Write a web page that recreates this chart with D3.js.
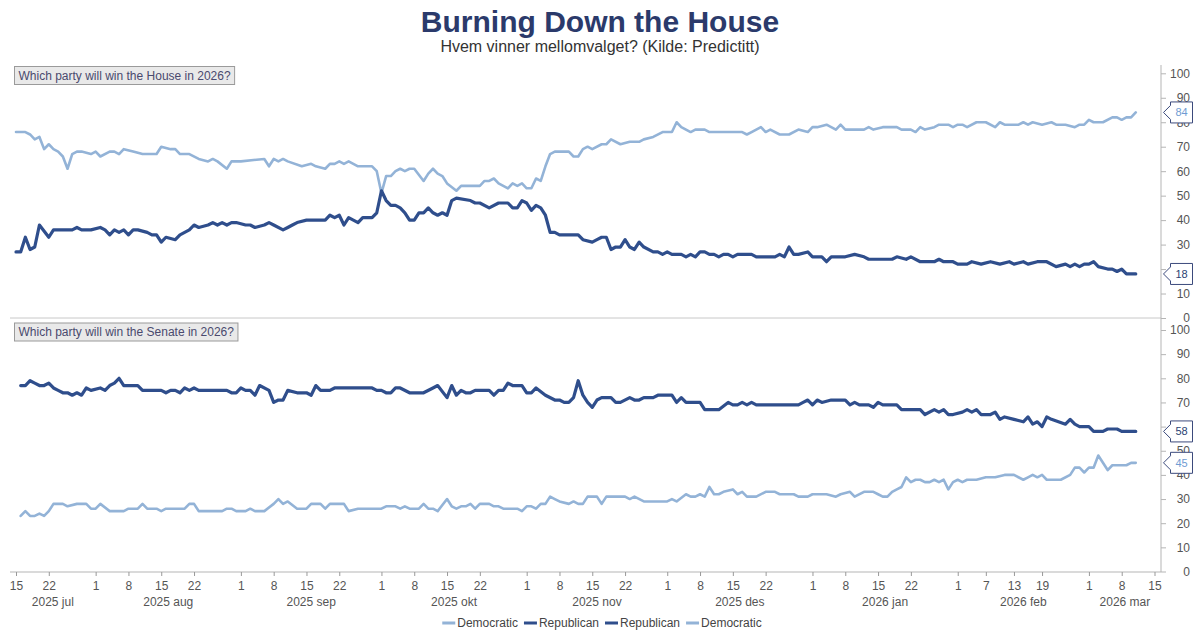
<!DOCTYPE html>
<html>
<head>
<meta charset="utf-8">
<script src="https://cdn.jsdelivr.net/npm/d3@7/dist/d3.min.js"></script>
<style>
  html, body { margin: 0; padding: 0; background: #fff; }
  svg { display: block; font-family: "Liberation Sans", Arial, sans-serif; }
</style>
</head>
<body>
<svg id="chart" width="1200" height="643"></svg>
<script>
// ---------- DATA ----------
const title = "Burning Down the House";
const subtitle = "Hvem vinner mellomvalget? (Kilde: Predictitt)";
const panelTitles = ["Which party will win the House in 2026?", "Which party will win the Senate in 2026?"];
const seriesNames = ["Democratic", "Republican"];
const legendItems = ["Democratic", "Republican", "Republican", "Democratic"];
const yTicks = [0, 10, 20, 30, 40, 50, 60, 70, 80, 90, 100];

const xTickDates = ["2025-07-15","2025-07-22","2025-08-01","2025-08-08","2025-08-15","2025-08-22",
  "2025-09-01","2025-09-08","2025-09-15","2025-09-22","2025-10-01","2025-10-08","2025-10-15","2025-10-22",
  "2025-11-01","2025-11-08","2025-11-15","2025-11-22","2025-12-01","2025-12-08","2025-12-15","2025-12-22",
  "2026-01-01","2026-01-08","2026-01-15","2026-01-22","2026-02-01","2026-02-07","2026-02-13","2026-02-19",
  "2026-03-01","2026-03-08","2026-03-15"];
const monthStarts = ["2025-07-01","2025-08-01","2025-09-01","2025-10-01","2025-11-01","2025-12-01","2026-01-01","2026-02-01","2026-03-01","2026-04-01"];
const monthLabels = ["2025 jul","2025 aug","2025 sep","2025 okt","2025 nov","2025 des","2026 jan","2026 feb","2026 mar"];

const houseDem = [
["2025-07-15",76],["2025-07-17",76],["2025-07-18",75],["2025-07-19",73],["2025-07-20",74],["2025-07-21",69],
["2025-07-22",71],["2025-07-23",69],["2025-07-24",68],["2025-07-25",66],["2025-07-26",61],["2025-07-27",67],
["2025-07-28",68],["2025-07-29",68],["2025-07-31",67],["2025-08-01",68],["2025-08-02",66],["2025-08-04",68],
["2025-08-05",68],["2025-08-06",67],["2025-08-07",69],["2025-08-09",68],["2025-08-11",67],["2025-08-14",67],
["2025-08-15",70],["2025-08-17",69],["2025-08-18",69],["2025-08-19",67],["2025-08-21",67],["2025-08-23",65],
["2025-08-25",64],["2025-08-26",65],["2025-08-27",64],["2025-08-29",61],["2025-08-30",64],["2025-09-01",64],
["2025-09-06",65],["2025-09-07",62],["2025-09-08",65],["2025-09-09",64],["2025-09-10",65],["2025-09-11",64],
["2025-09-14",62],["2025-09-16",63],["2025-09-17",62],["2025-09-19",61],["2025-09-20",63],["2025-09-21",63],
["2025-09-22",64],["2025-09-23",63],["2025-09-24",64],["2025-09-26",62],["2025-09-29",62],["2025-09-30",60],
["2025-10-01",51],["2025-10-02",58],["2025-10-03",58],["2025-10-04",60],["2025-10-05",61],["2025-10-06",60],
["2025-10-07",61],["2025-10-08",61],["2025-10-10",56],["2025-10-11",59],["2025-10-12",61],["2025-10-13",59],
["2025-10-14",58],["2025-10-15",55],["2025-10-17",52],["2025-10-18",54],["2025-10-22",54],["2025-10-23",56],
["2025-10-24",56],["2025-10-25",57],["2025-10-26",55],["2025-10-28",53],["2025-10-29",55],["2025-10-30",54],
["2025-10-31",55],["2025-11-01",53],["2025-11-02",53],["2025-11-03",57],["2025-11-04",56],["2025-11-05",62],
["2025-11-06",67],["2025-11-07",68],["2025-11-08",68],["2025-11-10",68],["2025-11-11",66],["2025-11-12",66],
["2025-11-13",69],["2025-11-14",70],["2025-11-15",69],["2025-11-17",71],["2025-11-18",71],["2025-11-19",73],
["2025-11-21",71],["2025-11-23",72],["2025-11-25",72],["2025-11-26",73],["2025-11-28",74],["2025-11-30",76],
["2025-12-02",76],["2025-12-03",80],["2025-12-04",78],["2025-12-06",76],["2025-12-07",77],["2025-12-09",77],
["2025-12-10",76],["2025-12-17",76],["2025-12-18",75],["2025-12-19",76],["2025-12-21",78],["2025-12-22",76],
["2025-12-23",77],["2025-12-25",75],["2025-12-27",75],["2025-12-29",77],["2025-12-31",76],["2026-01-01",78],
["2026-01-02",78],["2026-01-04",79],["2026-01-05",78],["2026-01-06",77],["2026-01-07",79],["2026-01-08",77],
["2026-01-12",77],["2026-01-13",78],["2026-01-14",77],["2026-01-16",78],["2026-01-19",78],["2026-01-20",77],
["2026-01-22",77],["2026-01-23",76],["2026-01-24",78],["2026-01-25",77],["2026-01-27",78],["2026-01-28",79],
["2026-01-30",79],["2026-01-31",78],["2026-02-01",79],["2026-02-02",79],["2026-02-03",78],["2026-02-05",80],
["2026-02-07",80],["2026-02-09",78],["2026-02-10",80],["2026-02-11",79],["2026-02-14",79],["2026-02-15",80],
["2026-02-16",79],["2026-02-17",80],["2026-02-19",79],["2026-02-21",80],["2026-02-22",79],["2026-02-24",79],
["2026-02-26",78],["2026-02-27",79],["2026-02-28",79],["2026-03-01",81],["2026-03-02",80],["2026-03-04",80],
["2026-03-06",82],["2026-03-07",82],["2026-03-08",81],["2026-03-09",82],["2026-03-10",82],["2026-03-11",84]];

const houseRep = [
["2025-07-15",27],["2025-07-16",27],["2025-07-17",33],["2025-07-18",28],["2025-07-19",29],["2025-07-20",38],
["2025-07-22",33],["2025-07-23",36],["2025-07-27",36],["2025-07-28",37],["2025-07-29",36],["2025-07-31",36],
["2025-08-02",37],["2025-08-03",36],["2025-08-04",34],["2025-08-05",36],["2025-08-06",35],["2025-08-07",36],
["2025-08-08",34],["2025-08-09",36],["2025-08-10",36],["2025-08-12",35],["2025-08-13",34],["2025-08-14",34],
["2025-08-15",31],["2025-08-16",33],["2025-08-18",32],["2025-08-19",34],["2025-08-20",35],["2025-08-21",36],
["2025-08-22",38],["2025-08-23",37],["2025-08-25",38],["2025-08-26",39],["2025-08-27",38],["2025-08-28",39],
["2025-08-29",38],["2025-08-30",39],["2025-08-31",39],["2025-09-02",38],["2025-09-03",38],["2025-09-04",37],
["2025-09-06",38],["2025-09-07",39],["2025-09-08",38],["2025-09-10",36],["2025-09-11",37],["2025-09-12",38],
["2025-09-13",39],["2025-09-15",40],["2025-09-19",40],["2025-09-20",42],["2025-09-21",41],["2025-09-22",42],
["2025-09-23",38],["2025-09-24",41],["2025-09-25",40],["2025-09-26",39],["2025-09-27",41],["2025-09-29",41],
["2025-09-30",43],["2025-10-01",52],["2025-10-02",48],["2025-10-03",46],["2025-10-04",46],["2025-10-05",45],
["2025-10-06",43],["2025-10-07",40],["2025-10-08",40],["2025-10-09",43],["2025-10-10",43],["2025-10-11",45],
["2025-10-12",43],["2025-10-13",42],["2025-10-14",43],["2025-10-15",42],["2025-10-16",48],["2025-10-17",49],
["2025-10-20",48],["2025-10-21",47],["2025-10-22",47],["2025-10-24",45],["2025-10-26",47],["2025-10-28",47],
["2025-10-29",45],["2025-10-30",45],["2025-10-31",48],["2025-11-01",47],["2025-11-02",44],["2025-11-03",46],
["2025-11-04",45],["2025-11-05",42],["2025-11-06",35],["2025-11-07",35],["2025-11-08",34],["2025-11-12",34],
["2025-11-13",32],["2025-11-15",31],["2025-11-16",32],["2025-11-17",33],["2025-11-18",33],["2025-11-19",28],
["2025-11-20",29],["2025-11-21",29],["2025-11-22",32],["2025-11-23",29],["2025-11-24",28],["2025-11-25",31],
["2025-11-26",29],["2025-11-28",27],["2025-11-29",27],["2025-11-30",26],["2025-12-01",27],["2025-12-02",26],
["2025-12-04",26],["2025-12-05",25],["2025-12-06",26],["2025-12-07",25],["2025-12-08",27],["2025-12-09",27],
["2025-12-10",26],["2025-12-11",26],["2025-12-12",25],["2025-12-13",26],["2025-12-14",26],["2025-12-15",25],
["2025-12-16",26],["2025-12-19",26],["2025-12-20",25],["2025-12-24",25],["2025-12-25",26],["2025-12-26",25],
["2025-12-27",29],["2025-12-28",26],["2025-12-29",26],["2025-12-31",27],["2026-01-01",25],["2026-01-03",25],
["2026-01-04",23],["2026-01-05",25],["2026-01-08",25],["2026-01-10",26],["2026-01-12",25],["2026-01-13",24],
["2026-01-18",24],["2026-01-19",25],["2026-01-21",24],["2026-01-22",25],["2026-01-24",23],["2026-01-27",23],
["2026-01-28",24],["2026-01-29",23],["2026-01-31",23],["2026-02-01",22],["2026-02-03",22],["2026-02-04",23],
["2026-02-06",22],["2026-02-08",23],["2026-02-10",22],["2026-02-12",23],["2026-02-13",22],["2026-02-15",23],
["2026-02-16",22],["2026-02-18",23],["2026-02-20",23],["2026-02-22",21],["2026-02-24",22],["2026-02-25",21],
["2026-02-26",22],["2026-02-27",21],["2026-02-28",22],["2026-03-01",22],["2026-03-02",23],["2026-03-03",21],
["2026-03-05",20],["2026-03-06",20],["2026-03-07",19],["2026-03-08",20],["2026-03-09",18],["2026-03-11",18]];

const senateRep = [
["2025-07-16",77],["2025-07-17",77],["2025-07-18",79],["2025-07-19",78],["2025-07-20",77],["2025-07-21",77],
["2025-07-22",78],["2025-07-23",76],["2025-07-24",75],["2025-07-25",74],["2025-07-26",74],["2025-07-27",73],
["2025-07-28",74],["2025-07-29",73],["2025-07-30",76],["2025-07-31",75],["2025-08-02",76],["2025-08-03",75],
["2025-08-04",77],["2025-08-05",78],["2025-08-06",80],["2025-08-07",77],["2025-08-10",77],["2025-08-11",75],
["2025-08-15",75],["2025-08-16",74],["2025-08-17",75],["2025-08-18",75],["2025-08-19",74],["2025-08-20",76],
["2025-08-21",75],["2025-08-22",76],["2025-08-23",75],["2025-08-29",75],["2025-08-30",74],["2025-08-31",74],
["2025-09-01",76],["2025-09-02",75],["2025-09-03",75],["2025-09-04",73],["2025-09-05",77],["2025-09-07",75],
["2025-09-08",70],["2025-09-09",71],["2025-09-10",71],["2025-09-11",75],["2025-09-13",74],["2025-09-15",74],
["2025-09-16",73],["2025-09-17",77],["2025-09-18",75],["2025-09-20",75],["2025-09-21",76],["2025-09-29",76],
["2025-09-30",75],["2025-10-01",75],["2025-10-02",74],["2025-10-03",74],["2025-10-04",76],["2025-10-05",76],
["2025-10-07",74],["2025-10-10",74],["2025-10-12",76],["2025-10-13",77],["2025-10-15",72],["2025-10-16",77],
["2025-10-17",73],["2025-10-18",75],["2025-10-19",74],["2025-10-20",74],["2025-10-21",75],["2025-10-24",75],
["2025-10-25",73],["2025-10-26",75],["2025-10-27",75],["2025-10-28",78],["2025-10-29",77],["2025-10-31",77],
["2025-11-01",74],["2025-11-02",74],["2025-11-03",76],["2025-11-05",73],["2025-11-07",71],["2025-11-08",71],
["2025-11-09",70],["2025-11-10",70],["2025-11-11",72],["2025-11-12",79],["2025-11-13",73],["2025-11-14",70],
["2025-11-15",68],["2025-11-16",71],["2025-11-17",72],["2025-11-19",72],["2025-11-20",70],["2025-11-21",70],
["2025-11-23",72],["2025-11-24",71],["2025-11-25",71],["2025-11-26",72],["2025-11-28",72],["2025-11-29",73],
["2025-12-02",73],["2025-12-03",70],["2025-12-04",72],["2025-12-05",70],["2025-12-08",70],["2025-12-09",67],
["2025-12-12",67],["2025-12-14",70],["2025-12-15",69],["2025-12-16",69],["2025-12-17",70],["2025-12-18",69],
["2025-12-19",70],["2025-12-20",69],["2025-12-29",69],["2025-12-30",70],["2025-12-31",71],["2026-01-01",69],
["2026-01-02",71],["2026-01-03",70],["2026-01-05",71],["2026-01-08",71],["2026-01-09",69],["2026-01-10",70],
["2026-01-11",69],["2026-01-13",69],["2026-01-14",68],["2026-01-15",70],["2026-01-16",69],["2026-01-19",69],
["2026-01-20",67],["2026-01-24",67],["2026-01-25",65],["2026-01-27",67],["2026-01-28",66],["2026-01-29",67],
["2026-01-30",65],["2026-01-31",65],["2026-02-02",66],["2026-02-03",67],["2026-02-04",66],["2026-02-05",67],
["2026-02-06",65],["2026-02-08",65],["2026-02-09",66],["2026-02-10",63],["2026-02-11",64],["2026-02-13",63],
["2026-02-15",62],["2026-02-16",64],["2026-02-17",61],["2026-02-18",62],["2026-02-19",60],["2026-02-20",64],
["2026-02-21",63],["2026-02-24",61],["2026-02-25",63],["2026-02-26",61],["2026-02-27",60],["2026-03-01",60],
["2026-03-02",58],["2026-03-04",58],["2026-03-05",59],["2026-03-07",59],["2026-03-08",58],["2026-03-11",58]];

const senateDem = [
["2025-07-16",23],["2025-07-17",25],["2025-07-18",23],["2025-07-19",23],["2025-07-20",24],["2025-07-21",23],
["2025-07-22",25],["2025-07-23",28],["2025-07-25",28],["2025-07-26",27],["2025-07-28",28],["2025-07-30",28],
["2025-07-31",26],["2025-08-01",26],["2025-08-02",28],["2025-08-04",25],["2025-08-07",25],["2025-08-08",26],
["2025-08-10",26],["2025-08-11",28],["2025-08-12",26],["2025-08-14",26],["2025-08-15",25],["2025-08-16",26],
["2025-08-20",26],["2025-08-21",28],["2025-08-22",28],["2025-08-23",25],["2025-08-28",25],["2025-08-29",26],
["2025-08-30",26],["2025-08-31",25],["2025-09-02",25],["2025-09-03",26],["2025-09-04",25],["2025-09-06",25],
["2025-09-08",28],["2025-09-09",30],["2025-09-10",28],["2025-09-11",29],["2025-09-13",26],["2025-09-15",26],
["2025-09-16",28],["2025-09-18",28],["2025-09-19",26],["2025-09-20",28],["2025-09-21",28],["2025-09-23",28],
["2025-09-24",25],["2025-09-26",26],["2025-10-01",26],["2025-10-02",27],["2025-10-04",27],["2025-10-05",26],
["2025-10-06",27],["2025-10-07",26],["2025-10-09",26],["2025-10-10",28],["2025-10-11",26],["2025-10-12",26],
["2025-10-13",25],["2025-10-15",30],["2025-10-16",27],["2025-10-17",26],["2025-10-18",27],["2025-10-19",27],
["2025-10-20",28],["2025-10-21",26],["2025-10-22",28],["2025-10-24",28],["2025-10-25",27],["2025-10-26",27],
["2025-10-27",26],["2025-10-30",26],["2025-10-31",25],["2025-11-01",27],["2025-11-02",27],["2025-11-03",26],
["2025-11-04",28],["2025-11-05",28],["2025-11-06",31],["2025-11-07",30],["2025-11-08",29],["2025-11-10",28],
["2025-11-11",29],["2025-11-12",28],["2025-11-13",28],["2025-11-14",31],["2025-11-16",31],["2025-11-17",28],
["2025-11-18",31],["2025-11-22",31],["2025-11-23",30],["2025-11-24",31],["2025-11-26",29],["2025-12-01",29],
["2025-12-02",30],["2025-12-03",29],["2025-12-05",32],["2025-12-06",31],["2025-12-07",31],["2025-12-08",32],
["2025-12-09",31],["2025-12-10",35],["2025-12-11",32],["2025-12-12",32],["2025-12-13",33],["2025-12-15",34],
["2025-12-16",32],["2025-12-17",33],["2025-12-18",31],["2025-12-20",31],["2025-12-22",33],["2025-12-24",33],
["2025-12-25",32],["2025-12-28",32],["2025-12-29",31],["2025-12-31",31],["2026-01-01",32],["2026-01-04",32],
["2026-01-06",31],["2026-01-07",32],["2026-01-09",33],["2026-01-10",31],["2026-01-12",33],["2026-01-14",33],
["2026-01-15",32],["2026-01-16",31],["2026-01-17",31],["2026-01-18",33],["2026-01-19",34],["2026-01-20",35],
["2026-01-21",39],["2026-01-22",37],["2026-01-23",38],["2026-01-24",38],["2026-01-25",37],["2026-01-26",37],
["2026-01-27",38],["2026-01-28",37],["2026-01-29",38],["2026-01-30",34],["2026-01-31",37],["2026-02-01",38],
["2026-02-02",37],["2026-02-03",38],["2026-02-05",38],["2026-02-07",39],["2026-02-09",39],["2026-02-11",40],
["2026-02-13",40],["2026-02-15",38],["2026-02-16",39],["2026-02-17",40],["2026-02-18",39],["2026-02-19",40],
["2026-02-20",38],["2026-02-23",38],["2026-02-25",40],["2026-02-26",43],["2026-02-27",43],["2026-02-28",41],
["2026-03-01",43],["2026-03-02",43],["2026-03-03",48],["2026-03-04",45],["2026-03-05",42],["2026-03-06",44],
["2026-03-09",44],["2026-03-10",45],["2026-03-11",45]];

// ---------- STYLE ----------
const demColor = "#93b3d7";
const repColor = "#2f4e8c";
const demLabelColor = "#6f9bd3";
const repLabelColor = "#2a3f72";
const axisColor = "#b5b5b5";
const textColor = "#555";
const FONT = "'Liberation Sans', Arial, sans-serif";

const parse = d3.timeParse("%Y-%m-%d");
const svg = d3.select("#chart");
svg.append("rect").attr("width", 1200).attr("height", 643).attr("fill", "#fff");

const x = d3.scaleTime().domain([parse("2025-07-15"), parse("2026-03-15")]).range([16, 1154.5]);
const xLeft = 10, xRight = 1161;
const xDomainStart = x.invert(xLeft), xDomainEnd = x.invert(xRight);

const panels = [
  { title: panelTitles[0], y: d3.scaleLinear().domain([0, 100]).range([318, 73.3]), boxY: 66,
    series: [{ name: seriesNames[0], data: houseDem, color: demColor, width: 2.6, label: demLabelColor },
             { name: seriesNames[1], data: houseRep, color: repColor, width: 3.2, label: repLabelColor }] },
  { title: panelTitles[1], y: d3.scaleLinear().domain([0, 100]).range([571.5, 330]), boxY: 322.5,
    series: [{ name: seriesNames[1], data: senateRep, color: repColor, width: 3.2, label: repLabelColor },
             { name: seriesNames[0], data: senateDem, color: demColor, width: 2.6, label: demLabelColor }] }
];

// Title
svg.append("text").attr("x", 600).attr("y", 32).attr("text-anchor", "middle")
  .attr("font-size", 30).attr("font-weight", "bold").attr("fill", "#2b3a6b").attr("font-family", FONT)
  .text(title);
svg.append("text").attr("x", 600).attr("y", 52).attr("text-anchor", "middle")
  .attr("font-size", 16).attr("fill", "#333").attr("font-family", FONT)
  .text(subtitle);

// Separator & axis lines
svg.append("line").attr("x1", xLeft).attr("x2", xRight).attr("y1", 318).attr("y2", 318)
  .attr("stroke", "#c8c8c8").attr("stroke-width", 1);
svg.append("line").attr("x1", xRight).attr("x2", xRight).attr("y1", 65).attr("y2", 572)
  .attr("stroke", axisColor).attr("stroke-width", 1);

// Right y axes
panels.forEach(p => {
  const g = svg.append("g").attr("transform", `translate(${xRight},0)`)
    .call(d3.axisRight(p.y).tickValues(yTicks).tickSize(5).tickFormat(d3.format("d")));
  g.select(".domain").remove();
  g.selectAll(".tick line").attr("stroke", axisColor);
  g.selectAll(".tick text").attr("x", 29).attr("text-anchor", "end")
    .attr("font-size", 12).attr("fill", textColor).attr("font-family", FONT);
});

// Lines
panels.forEach(p => {
  const line = d3.line().x(d => x(parse(d[0]))).y(d => p.y(d[1])).curve(d3.curveLinear);
  p.series.forEach(s => {
    svg.append("path").datum(s.data).attr("d", line).attr("fill", "none")
      .attr("stroke", s.color).attr("stroke-width", s.width)
      .attr("stroke-linejoin", "round").attr("stroke-linecap", "round");
  });
});

// Panel title boxes
panels.forEach(p => {
  const g = svg.append("g");
  const t = g.append("text").attr("x", 18.5).attr("y", p.boxY + 13.5)
    .attr("font-size", 12).attr("fill", "#4a4a6e").attr("font-family", FONT).text(p.title);
  const w = t.node().getComputedTextLength();
  g.insert("rect", "text").attr("x", 14.5).attr("y", p.boxY + 0.5).attr("width", w + 8).attr("height", 18)
    .attr("fill", "#e9e9e9").attr("stroke", "#9a9a9a").attr("stroke-width", 1);
});

// End-value callouts (drawn over the axis, as in the reference)
panels.forEach(p => {
  p.series.forEach(s => {
    const last = s.data[s.data.length - 1];
    const cy = p.y(last[1]);
    const tip = 1163.5, bx = 1170.5, bw = 22, bh = 21;
    const path = `M${tip},${cy} L${bx},${cy - 7} L${bx},${cy - bh / 2} L${bx + bw},${cy - bh / 2} ` +
                 `L${bx + bw},${cy + bh / 2} L${bx},${cy + bh / 2} L${bx},${cy + 7} Z`;
    svg.append("path").attr("d", path).attr("fill", "#fff").attr("stroke", "#3b4a7c").attr("stroke-width", 1);
    svg.append("text").attr("x", bx + bw / 2).attr("y", cy + 4).attr("text-anchor", "middle")
      .attr("font-size", 11).attr("fill", s.label).attr("font-family", FONT).text(last[1]);
  });
});

// X axis
svg.append("line").attr("x1", xLeft).attr("x2", xRight).attr("y1", 572).attr("y2", 572)
  .attr("stroke", axisColor).attr("stroke-width", 1);
const gx = svg.append("g").attr("transform", "translate(0,572)")
  .call(d3.axisBottom(x).tickValues(xTickDates.map(parse)).tickSize(4).tickPadding(5)
    .tickFormat(d3.timeFormat("%-d")));
gx.select(".domain").remove();
gx.selectAll(".tick line").attr("stroke", "#999");
gx.selectAll(".tick text").attr("font-size", 12).attr("fill", textColor).attr("font-family", FONT);

// Month labels
monthLabels.forEach((lab, i) => {
  const a = d3.max([parse(monthStarts[i]), xDomainStart]);
  const b = d3.min([parse(monthStarts[i + 1]), xDomainEnd]);
  svg.append("text").attr("x", (x(a) + x(b)) / 2).attr("y", 606).attr("text-anchor", "middle")
    .attr("font-size", 12).attr("fill", textColor).attr("font-family", FONT).text(lab);
});

// Legend
const legColor = { "Democratic": demColor, "Republican": repColor };
const lg = svg.append("g");
let cx = 0;
legendItems.forEach(name => {
  const it = lg.append("g").attr("transform", `translate(${cx},0)`);
  it.append("line").attr("x1", 0).attr("x2", 13).attr("y1", 0).attr("y2", 0)
    .attr("stroke", legColor[name]).attr("stroke-width", 3);
  const t = it.append("text").attr("x", 15).attr("y", 4.3).attr("font-size", 12)
    .attr("fill", "#444").attr("font-family", FONT).text(name);
  cx += 15 + t.node().getComputedTextLength() + 6;
});
const legW = cx - 6;
lg.attr("transform", `translate(${602 - legW / 2},623)`);
</script>
</body>
</html>
